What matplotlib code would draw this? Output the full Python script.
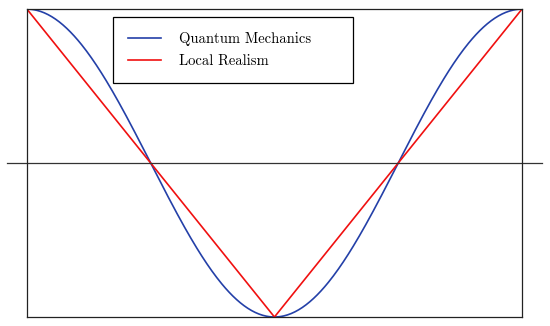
import numpy as np
import matplotlib.pyplot as plt

plt.rcParams['font.family'] = 'serif'
plt.rcParams['font.serif'] = ['cmr10', 'DejaVu Serif']
plt.rcParams['axes.formatter.use_mathtext'] = True

# angle between detectors (one full turn)
theta = np.linspace(0, 2 * np.pi, 400)
qm = np.cos(theta)                      # quantum mechanical correlation

# local realism: straight lines between these points
lr_theta = [0, np.pi, 2 * np.pi]
lr_vals = [1, -1, 1]

labels = ['Quantum Mechanics', 'Local Realism']
colors = ['#2440a8', '#f01010']

fig = plt.figure(figsize=(5.5, 3.26), dpi=100)
ax = fig.add_axes([0.049, 0.0276, 0.9, 0.9444])

ax.plot(theta, qm, color=colors[0], lw=1.2, label=labels[0])
ax.plot(lr_theta, lr_vals, color=colors[1], lw=1.2, label=labels[1])

# zero line sticking out of the box on both sides
ax.axhline(0, xmin=-0.04, xmax=1.04, color='#333333', lw=0.9, clip_on=False)

ax.set_xlim(0, 2 * np.pi)
ax.set_ylim(-1, 1)
ax.set_xticks([])
ax.set_yticks([])
for s in ax.spines.values():
    s.set_linewidth(0.9)
    s.set_color('#222222')

leg = ax.legend(loc='upper left', bbox_to_anchor=(0.174, 0.76, 0.485, 0.214),
                mode='expand', borderaxespad=0,
                fontsize=10.5, fancybox=False, edgecolor='black', framealpha=1,
                borderpad=1.0, handlelength=2.3, handletextpad=1.25, labelspacing=0.6)
leg.get_frame().set_linewidth(0.9)

fig.savefig('out.png', dpi=100)
